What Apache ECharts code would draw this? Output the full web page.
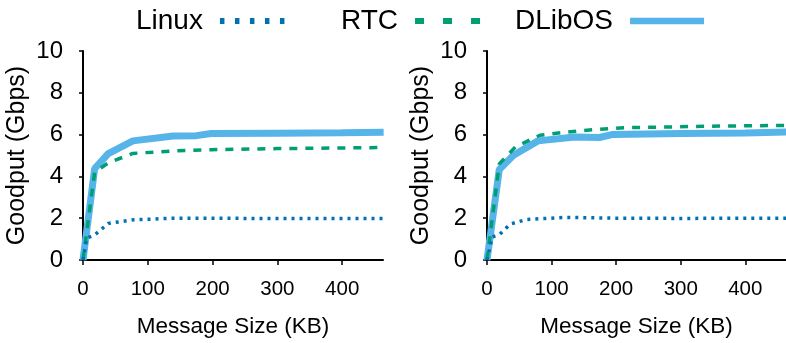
<!DOCTYPE html>
<html>
<head>
<meta charset="utf-8">
<script src="https://cdn.jsdelivr.net/npm/echarts@6/dist/echarts.min.js"></script>
<style>html,body{margin:0;padding:0;background:#fff}#c{width:786px;height:343px}</style>
</head>
<body>
<div id="c"></div>
<script>
// ---- data (Message Size KB, Goodput Gbps) ----
const xTicks = [0, 100, 200, 300, 400];
const yTicks = [0, 2, 4, 6, 8, 10];

// Left panel
const leftLinuxX  = [0, 6, 18, 39, 77, 139, 198, 300, 464];
const leftLinuxY  = [0, 1.05, 1.2, 1.75, 1.92, 2.0, 2.0, 1.98, 1.99];
const leftRtcX    = [0, 18, 39, 77, 139, 198, 300, 464];
const leftRtcY    = [0, 4.2, 4.65, 5.1, 5.22, 5.28, 5.33, 5.38];
const leftDlibX   = [0, 18, 39, 77, 139, 175, 198, 300, 400, 464];
const leftDlibY   = [0, 4.37, 5.09, 5.7, 5.93, 5.95, 6.05, 6.07, 6.09, 6.11];

// Right panel
const rightLinuxX = [0, 8, 20, 36, 61, 123, 200, 300, 464];
const rightLinuxY = [0, 1.1, 1.24, 1.72, 1.94, 2.04, 2.0, 1.99, 2.0];
const rightRtcX   = [0, 19, 44, 82, 123, 164, 215, 344, 464];
const rightRtcY   = [0, 4.6, 5.41, 5.97, 6.12, 6.24, 6.33, 6.4, 6.44];
const rightDlibX  = [0, 19, 41, 79, 136, 174, 195, 300, 400, 464];
const rightDlibY  = [0, 4.33, 5.01, 5.7, 5.89, 5.86, 6.01, 6.05, 6.08, 6.12];

const names = ['Linux', 'RTC', 'DLibOS'];
const colors = ['#0072B2', '#009E73', '#56B4E9'];

function pairs(xs, ys) { return xs.map((x, i) => [x, ys[i]]); }

const FONT = 'Liberation Sans';
const chart = echarts.init(document.getElementById('c'), null, {renderer: 'canvas'});

function xAxis(gi) {
  return {
    type: 'value', gridIndex: gi, min: 0, max: 463, interval: 100,
    name: 'Message Size (KB)', nameLocation: 'middle', nameGap: 55,
    nameTextStyle: {fontFamily: FONT, fontSize: 22.5, color: '#000'},
    axisLine: {show: true, onZero: false, lineStyle: {color: '#000', width: 2}},
    axisTick: {show: true, length: 5, lineStyle: {color: '#000', width: 1.5}, customValues: xTicks},
    axisLabel: {fontFamily: FONT, fontSize: 20.5, color: '#000', margin: 19, customValues: xTicks},
    splitLine: {show: false}
  };
}
function yAxis(gi) {
  return {
    type: 'value', gridIndex: gi, min: 0, max: 10, interval: 2,
    name: 'Goodput (Gbps)', nameLocation: 'middle', nameGap: 53,
    nameTextStyle: {fontFamily: FONT, fontSize: 25, color: '#000'},
    axisLine: {show: true, onZero: false, lineStyle: {color: '#000', width: 2}},
    axisTick: {show: true, length: 4, lineStyle: {color: '#000', width: 1.5}},
    axisLabel: {fontFamily: FONT, fontSize: 24, color: '#000', margin: 20},
    splitLine: {show: false}
  };
}

const plotStyles = {
  Linux: {width: 3.5, type: [3, 5]},
  RTC: {width: 3.5, type: [8, 8]},
  DLibOS: {width: 7, type: 'solid'}
};
const legendStyles = {
  Linux: {width: 6, type: [4.5, 10.5]},
  RTC: {width: 6, type: [9, 19]},
  DLibOS: {width: 6.5, type: 'solid'}
};
const legendLeft = {Linux: 136, RTC: 341, DLibOS: 515};

function series(name, gi, data) {
  const idx = names.indexOf(name);
  return {
    name, type: 'line', xAxisIndex: gi, yAxisIndex: gi, data,
    showSymbol: false, symbol: 'none', color: colors[idx],
    lineStyle: Object.assign({color: colors[idx]}, plotStyles[name]),
    z: name === 'DLibOS' ? 2 : 3, silent: true, animation: false
  };
}

chart.setOption({
  animation: false,
  legend: names.map((n, i) => ({
    top: 7, left: legendLeft[n], align: 'right', itemWidth: 74, itemHeight: 14, padding: 0,
    selectedMode: false,
    textStyle: {fontFamily: FONT, fontSize: 28, color: '#000', padding: [0, 12, 0, 0]},
    itemStyle: {opacity: 0},
    lineStyle: Object.assign({color: colors[i]}, legendStyles[n]),
    data: [n]
  })),
  grid: [
    {left: 83, top: 51, width: 300, height: 209},
    {left: 487, top: 51, width: 300, height: 209}
  ],
  xAxis: [xAxis(0), xAxis(1)],
  yAxis: [yAxis(0), yAxis(1)],
  series: [
    series('DLibOS', 0, pairs(leftDlibX, leftDlibY)),
    series('RTC', 0, pairs(leftRtcX, leftRtcY)),
    series('Linux', 0, pairs(leftLinuxX, leftLinuxY)),
    series('DLibOS', 1, pairs(rightDlibX, rightDlibY)),
    series('RTC', 1, pairs(rightRtcX, rightRtcY)),
    series('Linux', 1, pairs(rightLinuxX, rightLinuxY))
  ]
});
</script>
</body>
</html>
